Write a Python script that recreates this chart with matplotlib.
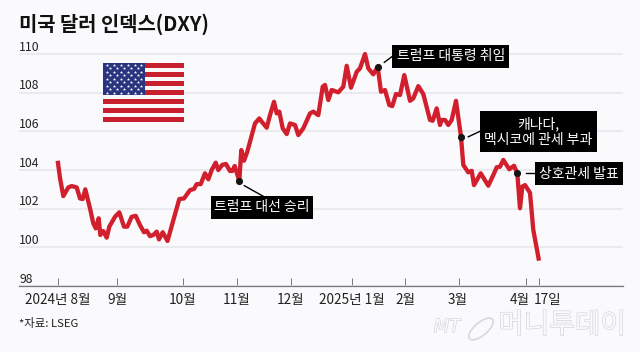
from matplotlib import pyplot as plt
from matplotlib.patches import Rectangle, Ellipse
import matplotlib.patheffects as pe

plt.rcParams['font.family'] = ['Noto Sans CJK KR', 'DejaVu Sans']

# x is the position along the chart's (uneven) time axis
x_pos = [57.7, 60, 63.3, 68.3, 71.7, 76.7, 80, 82.7, 85.3, 90, 93.3, 95.7, 98.7, 100.3, 103.3, 106.7,
         109.3, 115, 119.3, 124, 127.3, 131.7, 135.7, 140, 144, 146.7, 150, 153.3, 156.7, 159, 162.7, 167.5,
         179.3, 184, 190, 194, 196.7, 200.7, 205, 208.3, 211.7, 215.7, 218.3, 222.3, 226, 230, 232.3, 234.7,
         239.3, 241.3, 244, 247.3, 255, 259.3, 261.7, 266.7, 270, 274, 276.7, 279.3, 282.7, 286.7, 290, 295,
         298.3, 303.3, 310, 313.3, 318.3, 322.7, 325, 328.3, 331.7, 338.3, 343.3, 346.7, 351, 356.7, 360, 365,
         368.3, 373.3, 377.7, 381, 385, 389.3, 392.3, 396, 400, 404.3, 410, 413.3, 418.3, 423.3, 430, 432.7,
         436.7, 440, 441.7, 445, 448.3, 451.7, 456, 461, 463.3, 468.3, 471.7, 474, 480.7, 488.3, 493.3, 496.7,
         500, 503.3, 509.3, 514, 517.3, 520, 522.3, 525, 530, 533.3, 539]
dxy = [104.48, 103.59, 102.65, 103.10, 103.17, 103.10, 102.53, 102.50, 103.0, 102.02, 101.24, 100.98, 101.5, 100.64, 100.84, 100.5,
       101.07, 101.58, 101.81, 101.07, 101.07, 101.58, 101.63, 101.15, 100.78, 100.86, 100.58, 100.64, 100.81, 100.41, 100.78, 100.33,
       102.50, 102.53, 102.96, 103.02, 103.27, 103.27, 103.83, 103.52, 104.0, 104.38, 104.0, 104.27, 104.31, 103.95, 103.95, 104.21,
       103.43, 105.03, 104.48, 104.95, 106.41, 106.67, 106.5, 106.19, 106.84, 107.53, 106.93, 107.02, 106.16, 105.86, 106.41, 106.33,
       105.81, 106.16, 106.93, 107.02, 106.84, 108.31, 108.4, 107.62, 108.14, 108.02, 108.31, 109.39, 108.26, 109.08, 109.26, 110.0,
       109.26, 108.95, 109.34, 108.05, 108.14, 107.36, 107.31, 107.93, 107.88, 108.91, 107.58, 107.71, 108.34, 107.93, 106.59, 106.55,
       107.19, 106.33, 106.59, 106.59, 106.33, 106.59, 107.58, 105.72, 104.26, 103.88, 103.96, 103.22, 103.83, 103.19, 103.74, 104.14,
       104.17, 104.52, 104.04, 104.22, 103.83, 102.02, 103.14, 103.22, 102.82, 100.9, 99.31]

y_ticks = [98, 100, 102, 104, 106, 108, 110]
tick_x = [57.5, 117, 183, 237, 290.5, 351.5, 405, 458.5, 525.5, 539]
tick_label_x = [57.5, 117, 183, 237, 291, 352, 405, 458, 520, 548]
tick_labels = ["2024년 8월", "9월", "10월", "11월", "12월", "2025년 1월", "2월", "3월", "4월", "17일"]

# event dots
event_x = [239.3, 377.7, 461, 517.3]
event_y = [103.43, 109.34, 105.72, 103.83]

# label boxes: text, left, right, bottom, top
box_text = ["트럼프 대선 승리", "트럼프 대통령 취임", "캐나다,\n멕시코에 관세 부과", "상호관세 발표"]
box_left = [211, 392.3, 480, 535]
box_right = [313, 509, 597, 623]
box_bottom = [101.46, 109.28, 104.93, 103.22]
box_top = [102.68, 110.47, 107.03, 104.40]
# leader lines from the dots to the boxes
lead_x = [[244.3, 263.3], [384.3, 392.3], [468.3, 480], [525.7, 535]]
lead_y = [[103.19, 102.64], [109.57, 109.88], [105.72, 106.0], [103.83, 103.83]]

bg = '#fafafc'
fig = plt.figure(figsize=(6.4, 3.52), dpi=100, facecolor=bg)
ax = fig.add_axes([19 / 640, 66 / 352, 604 / 640, 246 / 352], facecolor='none')
ax.set_xlim(19, 623)
ax.set_ylim(98, 98 + 246 / 19.33)

for s in ['top', 'left', 'right']:
    ax.spines[s].set_visible(False)
ax.spines['bottom'].set_color('#777777')
ax.spines['bottom'].set_linewidth(0.9)

ax.set_yticks(y_ticks)
ax.set_yticklabels([])
ax.tick_params(axis='y', length=0)
ax.grid(axis='y', color='#e6e6ea', lw=1.1)
ax.set_axisbelow(True)

ax.set_xticks(tick_x)
ax.set_xticklabels([])
ax.tick_params(axis='x', direction='in', length=5.5, width=0.7, color='#777777')

for v in y_ticks:
    ax.annotate(str(v), (19, v), xytext=(0, 5), textcoords='offset points', ha='left', va='center',
                fontsize=8.8, color='#222222')
for lx, t in zip(tick_label_x, tick_labels):
    ax.annotate(t, (lx, 0), xycoords=('data', 'axes fraction'), xytext=(0, -10), textcoords='offset points',
                ha='center', va='center', fontsize=9.8, color='#222222')

ax.plot(x_pos, dxy, color='#d21f2e', lw=3.1, solid_joinstyle='round', solid_capstyle='butt', zorder=3)
ax.scatter(event_x, event_y, s=17, color='#151515', zorder=4)

for lx, ly in zip(lead_x, lead_y):
    ax.plot(lx, ly, color='black', lw=1, zorder=4)
for t, l, r, b, h in zip(box_text, box_left, box_right, box_bottom, box_top):
    ax.add_patch(Rectangle((l, b), r - l, h - b, color='black', lw=0, zorder=5))
    ax.text((l + r) / 2, (b + h) / 2, t, color='white', fontsize=10, ha='center', va='center',
            linespacing=1.15, zorder=6)

fig.text(19 / 640, 1 - 24 / 352, "미국 달러 인덱스(DXY)", fontsize=14.3, fontweight='bold', color='#111111',
         ha='left', va='center')
fig.text(19 / 640, 1 - 324 / 352, "*자료: LSEG", fontsize=8.2, color='#222222', ha='left', va='center')

# flag
flag = fig.add_axes([103 / 640, 1 - 122 / 352, 81 / 640, 59 / 352])
flag.set_xlim(0, 1)
flag.set_ylim(13, 0)
flag.axis('off')
for i in range(0, 13, 2):
    flag.add_patch(Rectangle((0, i), 1, 1, color='#c8202f', lw=0))
flag.add_patch(Rectangle((0, 0), 0.52, 7, color='#2a3580', lw=0))
star_x = []
star_y = []
for row in range(9):
    n = 6 if row % 2 == 0 else 5
    for c in range(n):
        star_x.append((0.045 + c * 0.086) if row % 2 == 0 else (0.088 + c * 0.086))
        star_y.append(0.45 + row * 0.76)
flag.scatter(star_x, star_y, marker='*', s=6, color='white', lw=0)

# watermark
mark = [pe.withStroke(linewidth=0.8, foreground='#cfcfd2')]
fig.text(447 / 640, 1 - 327 / 352, "MT", fontsize=13, style='italic', color=bg, ha='center', va='center',
         family='DejaVu Sans', path_effects=mark)
fig.text(562 / 640, 1 - 325 / 352, "머니투데이", fontsize=20, color=bg, ha='center', va='center', path_effects=mark)
wm = fig.add_axes([0, 0, 1, 1], facecolor='none')
wm.set_xlim(0, 640)
wm.set_ylim(352, 0)
wm.axis('off')
wm.add_patch(Ellipse((481, 329), 30, 13, angle=-40, fill=False, ec='#d8d8db', lw=1.2))

fig.savefig("out.png", dpi=100, facecolor=bg)
